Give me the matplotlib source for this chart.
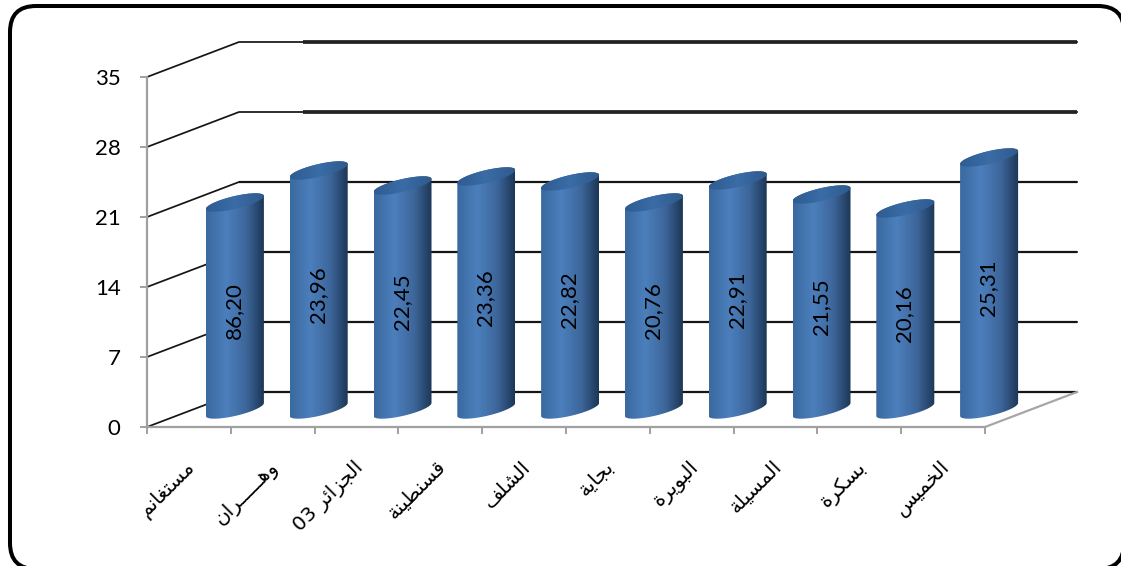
import numpy as np
import matplotlib
matplotlib.use("Agg")
import matplotlib.pyplot as plt
from matplotlib.colors import LinearSegmentedColormap
from matplotlib.patches import FancyBboxPatch, Polygon
from matplotlib.transforms import offset_copy

# ---- data ----
categories = ["مستغانم", "وهـــــران", "الجزائر 03", "قسنطينة", "الشلف",
              "بجاية", "البويرة", "المسيلة", "بسكرة", "الخميس"]
heights = [20.7, 23.9, 22.4, 23.3, 22.8, 20.7, 22.9, 21.5, 20.1, 25.2]
bar_labels = ["86,20", "23,96", "22,45", "23,36", "22,82",
              "20,76", "22,91", "21,55", "20,16", "25,31"]
y_ticks = [0, 7, 14, 21, 28, 35]

# ---- minimal Arabic shaping: matplotlib lays text out left to right ----
FORMS = {
    "ا": (0xFE8D, 2), "ب": (0xFE8F, 4), "ة": (0xFE93, 2), "ت": (0xFE95, 4),
    "ج": (0xFE9D, 4), "خ": (0xFEA5, 4), "ر": (0xFEAD, 2), "ز": (0xFEAF, 2),
    "س": (0xFEB1, 4), "ش": (0xFEB5, 4), "ط": (0xFEC1, 4), "غ": (0xFECD, 4),
    "ف": (0xFED1, 4), "ق": (0xFED5, 4), "ك": (0xFED9, 4), "ل": (0xFEDD, 4),
    "م": (0xFEE1, 4), "ن": (0xFEE5, 4), "ه": (0xFEE9, 4), "و": (0xFEED, 2),
    "ي": (0xFEF1, 4), "ئ": (0xFE89, 4),
}
KASHIDA = "\u0640"


def joins_next(c):
    return c == KASHIDA or (c in FORMS and FORMS[c][1] == 4)


def joins_prev(c):
    return c == KASHIDA or c in FORMS


def shape(word):
    out = []
    for i, c in enumerate(word):
        if c not in FORMS:
            out.append(c)
            continue
        base, _ = FORMS[c]
        before = i > 0 and joins_next(word[i - 1])
        after = i + 1 < len(word) and joins_prev(word[i + 1]) and joins_next(c)
        idx = 3 if before and after else 2 if after else 1 if before else 0
        out.append(chr(base + idx))
    return out


def visual(text):
    runs = text.split(" ")
    parts = []
    for r in runs:
        parts.append(r if r.isdigit() else "".join(reversed(shape(r))))
    return " ".join(reversed(parts))


# ---- figure ----
W, H = 1121, 566
plt.rcParams["font.family"] = ["Lato", "DejaVu Sans"]
fig = plt.figure(figsize=(W / 100, H / 100), dpi=100, facecolor="white")

# rounded frame, in pixel coordinates; right and bottom run off the canvas
bg = fig.add_axes([0, 0, 1, 1])
bg.set_xlim(0, W)
bg.set_ylim(H, 0)
bg.axis("off")
R = 26
bg.add_patch(FancyBboxPatch((10 + R, 6 + R), 1114 - 2 * R, 563 - 2 * R,
                            boxstyle=f"round,pad={R},rounding_size={R}",
                            fc="white", ec="black", lw=2.9, clip_on=True))

# chart axes: x 0..10 spans 147..985 px, y 0..35 spans 427..77 px
PX_X = 83.8
PX_Y = 10.0
depth_x = 92 / PX_X
depth_y = 35 / PX_Y
thick_from = (303 - 147) / PX_X
ax = fig.add_axes([147 / W, (H - 427) / H, (1077 - 147) / W, (427 - 42) / H])
ax.patch.set_alpha(0)
xmax, ymax = 10 + depth_x, 35 + depth_y
n = len(categories)

# back wall gridlines and their side-wall segments
for v in y_ticks:
    ax.plot([0, depth_x, xmax], [v, v + depth_y, v + depth_y],
            color="#151515", lw=1.25, clip_on=False, zorder=1,
            solid_joinstyle="miter")
    if v >= 28:
        ax.plot([thick_from, xmax], [v + depth_y, v + depth_y],
                color="#222222", lw=2.7, clip_on=False, zorder=1,
                solid_capstyle="butt")
    else:
        ax.plot([depth_x, xmax], [v + depth_y, v + depth_y],
                color="#151515", lw=1.6, clip_on=False, zorder=1,
                solid_capstyle="butt")
# floor right edge
ax.plot([10, xmax], [0, depth_y], color="#a6a6a6", lw=1.6, clip_on=False, zorder=1)

# cylinders
cmap = LinearSegmentedColormap.from_list(
    "cyl", [(0, "#3a699f"), (0.35, "#4c7fbd"), (0.7, "#3d669a"), (1, "#1c3656")])
cap_cmap = LinearSegmentedColormap.from_list("cap", ["#2f5c92", "#3a6ca6", "#2f5a8d"])
grad = np.linspace(0, 1, 128).reshape(1, -1)
a = 29 / PX_X
b = 6.5 / PX_Y
k = 6.5 / PX_Y
base = depth_y / 2
t_low = np.linspace(np.pi, 2 * np.pi, 60)
t_full = np.linspace(0, 2 * np.pi, 120)

for i, h in enumerate(heights):
    cx = i + 0.5 + depth_x / 2
    top = base + h
    xl = cx + a * np.cos(t_low)
    yl = base + b * np.sin(t_low) + k * np.cos(t_low)
    # lower arc left to right, then the upper arc of the cap back right to left
    xs = np.r_[xl, cx + a * np.cos(t_full[:60])]
    ys = np.r_[yl, top + b * np.sin(t_full[:60]) + k * np.cos(t_full[:60])]
    body = Polygon(np.c_[xs, ys], closed=True, fc="none", ec="none",
                   transform=ax.transData)
    ax.add_patch(body)
    im = ax.imshow(grad, cmap=cmap, aspect="auto", zorder=3, vmin=0, vmax=1,
                   extent=[cx - a, cx + a, base - 2, top + 2])
    im.set_clip_path(body)

    capx = cx + a * np.cos(t_full)
    capy = top + b * np.sin(t_full) + k * np.cos(t_full)
    cap = Polygon(np.c_[capx, capy], closed=True, fc="none", ec="none",
                  transform=ax.transData)
    ax.add_patch(cap)
    imc = ax.imshow(grad, cmap=cap_cmap, aspect="auto", zorder=4, vmin=0, vmax=1,
                    extent=[cx - a, cx + a, top - 2, top + 2])
    imc.set_clip_path(cap)

    ax.text(cx - 0.01, base + h / 2 - 0.45, bar_labels[i], rotation=90,
            ha="center", va="center", fontsize=16, color="black", zorder=5)

ax.set_xlim(0, xmax)
ax.set_ylim(0, ymax)

# axes and ticks
for s in ("top", "right"):
    ax.spines[s].set_visible(False)
for s in ("left", "bottom"):
    ax.spines[s].set_color("#a0a0a0")
    ax.spines[s].set_linewidth(1.6)
    ax.spines[s].set_zorder(2)
ax.spines["left"].set_bounds(0, 35)
ax.spines["bottom"].set_bounds(0, 10)
ax.set_yticks(y_ticks)
ax.set_yticklabels([str(v) for v in y_ticks], fontsize=16)
ax.set_xticks(np.arange(n + 1))
ax.set_xticklabels([])
ax.tick_params(axis="both", color="#a0a0a0", width=1.4, length=5)
ax.tick_params(axis="y", pad=14)

# rotated category labels
label_tf = offset_copy(ax.transData, fig=fig, x=3, y=-37, units="dots")
for i, c in enumerate(categories):
    ax.text(i + 0.5, 0, visual(c), transform=label_tf, rotation=45,
            rotation_mode="anchor", ha="right", va="center", fontsize=14.5,
            family=["DejaVu Sans"], color="black", clip_on=False)

fig.savefig("out.png", dpi=100, facecolor="white")
